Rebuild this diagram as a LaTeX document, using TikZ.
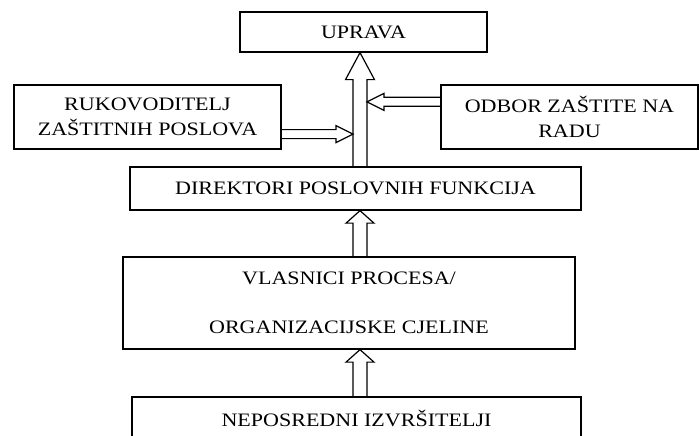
\documentclass[tikz,border=0pt]{standalone}
\usepackage{fontspec}
\setmainfont{Liberation Serif}[FakeStretch=1.16]
\usetikzlibrary{calc}

% hollow block arrow: from, to, shaft half width, head half width, head length
\newcommand{\hollowarrow}[5]{%
  \coordinate (ha) at (#1);
  \coordinate (hb) at (#2);
  \coordinate (hm) at ($(hb)!#5pt!(ha)$);
  \draw[arrowline] ($(ha)!#3pt!90:(hb)$) -- ($(hm)!#3pt!-90:(ha)$)
    -- ($(hm)!#4pt!-90:(ha)$) -- (hb) -- ($(hm)!#4pt!90:(ha)$)
    -- ($(hm)!#3pt!90:(ha)$) -- ($(ha)!#3pt!-90:(hb)$);
}

\begin{document}
\begin{tikzpicture}[x=1pt, y=1pt,
    box/.style={draw=black, line width=1.3pt, inner sep=0pt, align=center,
      font=\fontsize{19}{24.3}\selectfont},
    arrowline/.style={draw=black, line width=1.2pt, line join=miter}]
    \useasboundingbox (0,0) rectangle (699,436);

    % Boxes
    \node[box, minimum width=247, minimum height=40] (uprava) at (363.5,404) {UPRAVA};
    \node[box, minimum width=267, minimum height=64] (rukov) at (147.5,319)
      {RUKOVODITELJ\\ZAŠTITNIH POSLOVA};
    \node[box, minimum width=257, minimum height=64] (odbor) at (569.5,319)
      {ODBOR ZAŠTITE NA\\RADU};
    \node[box, minimum width=451, minimum height=43] (direktori) at (355.5,247.5)
      {DIREKTORI POSLOVNIH FUNKCIJA};
    \node[box, minimum width=452, minimum height=92] (vlasnici) at (349,133)
      {VLASNICI PROCESA/\\[24.7pt]ORGANIZACIJSKE CJELINE};
    \node[box, minimum width=449, minimum height=42] (neposredni) at (356.5,18)
      {NEPOSREDNI IZVRŠITELJI};

    % Arrows
    \coordinate (spine) at (360,0);
    \coordinate (rukovout) at ($(rukov.south east)+(0,15.5)$);
    \coordinate (rukovin) at ($(spine |- rukovout)+(-7,0)$);
    \coordinate (odborout) at ($(odbor.north west)+(0,-17.5)$);
    \coordinate (odborin) at ($(spine |- odborout)+(7,0)$);

    \hollowarrow{spine |- direktori.north}{spine |- uprava.south}{7}{14.5}{27}
    \hollowarrow{spine |- vlasnici.north}{spine |- direktori.south}{7}{14}{12.5}
    \hollowarrow{spine |- neposredni.north}{spine |- vlasnici.south}{7}{14}{12.5}
    \hollowarrow{rukovout}{rukovin}{4.5}{8.5}{17}
    \hollowarrow{odborout}{odborin}{4.5}{8.5}{17}
\end{tikzpicture}
\end{document}
